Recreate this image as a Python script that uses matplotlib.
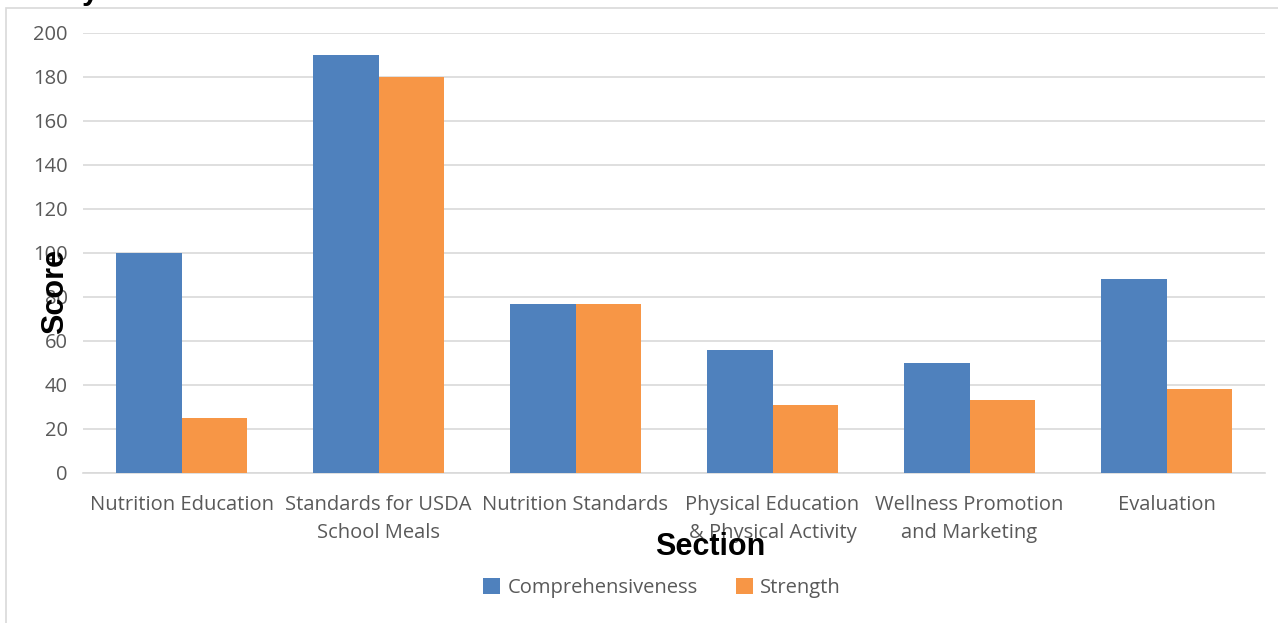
import matplotlib
matplotlib.use("Agg")
import matplotlib.pyplot as plt
import numpy as np
from matplotlib.patches import Rectangle

categories = ["Nutrition Education", "Standards for USDA\nSchool Meals", "Nutrition Standards",
              "Physical Education\n& Physical Activity", "Wellness Promotion\nand Marketing", "Evaluation"]
comprehensiveness = [100, 190, 77, 56, 50, 88]
strength = [25, 180, 77, 31, 33, 38]
yticks = [0, 20, 40, 60, 80, 100, 120, 140, 160, 180, 200]

BLUE = "#4F81BD"
ORANGE = "#F79646"
GRID = "#D9D9D9"
TICK = "#595959"

fig = plt.figure(figsize=(12.78, 6.23), dpi=100)
# outer frame
fig.patches.append(Rectangle((6/1278, -0.1), 1.2, 1 - 8/623 + 0.1, transform=fig.transFigure,
                             fill=False, edgecolor=GRID, linewidth=1.2))
fig.text(82/1278, 1 + 1/623, "y", fontsize=22, fontweight="bold", family="Liberation Sans",
         va="baseline", ha="left", color="black")

ax = fig.add_axes([83/1278, 1 - 473/623, (1265 - 83)/1278, (473 - 33)/623])
x = np.arange(len(categories))
w = 0.33
ax.bar(x - w/2, comprehensiveness, w, color=BLUE, label="Comprehensiveness", zorder=3)
ax.bar(x + w/2, strength, w, color=ORANGE, label="Strength", zorder=3)

ax.set_xlim(-0.5, len(categories) - 0.5)
ax.set_ylim(0, 200)
ax.set_yticks(yticks)
ax.yaxis.grid(True, color=GRID, linewidth=1.2, zorder=0)
for s in ["top", "right", "left"]:
    ax.spines[s].set_visible(False)
ax.spines["bottom"].set_color(GRID)
ax.spines["bottom"].set_linewidth(1.2)
ax.tick_params(axis="both", length=0, colors=TICK, labelsize=14.5)
ax.tick_params(axis="y", pad=11)
ax.tick_params(axis="x", pad=16)
ax.set_xticks(x)
ax.set_xticklabels(categories, linespacing=1.5)
for lab in ax.get_xticklabels() + ax.get_yticklabels():
    lab.set_family("Open Sans")

fig.text(55/1278, 1 - 291/623, "Score", rotation=90, fontsize=22, fontweight="bold",
         family="Liberation Sans", ha="center", va="center")
fig.text(710/1278, 1 - 547/623, "Section", fontsize=22, fontweight="bold",
         family="Liberation Sans", ha="center", va="center")

leg = fig.legend(loc="center", bbox_to_anchor=(662/1278, 1 - 588/623), ncol=2, frameon=False,
                 prop={"family": "Open Sans", "size": 14.5}, handlelength=0.85, handleheight=0.85,
                 handletextpad=0.35, columnspacing=1.9)
for t in leg.get_texts():
    t.set_color(TICK)

fig.savefig("out.png", dpi=100)
